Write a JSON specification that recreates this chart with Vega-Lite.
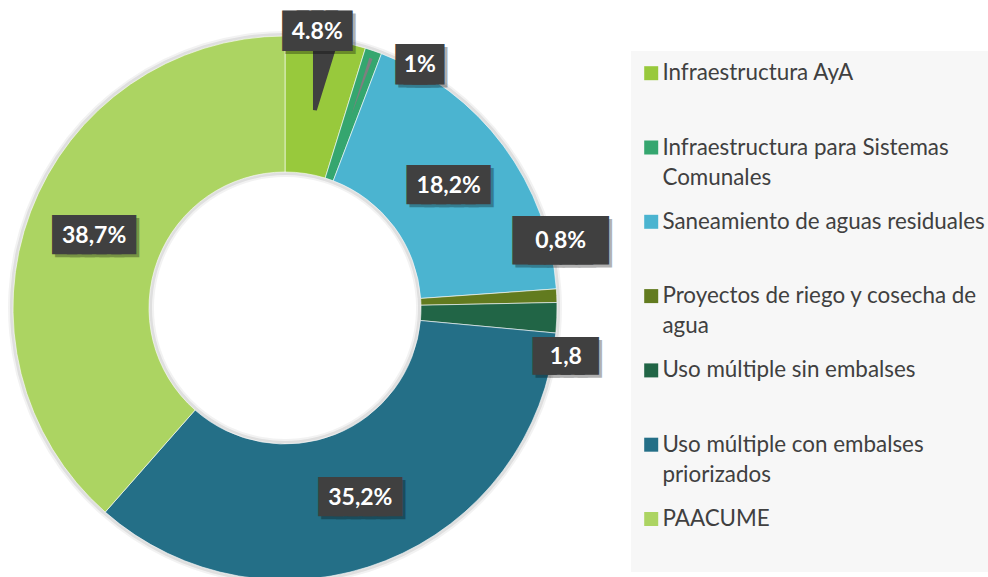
{
  "$schema": "https://vega.github.io/schema/vega-lite/v6.json",
  "width": 570,
  "height": 538,
  "autosize": {"type": "none"},
  "padding": {"left": 0, "top": 39, "right": 418, "bottom": 0},
  "background": "#ffffff",
  "config": {"view": {"stroke": null}, "style": {"guide-label": {"lineHeight": 30}}},
  "data": {
    "values": [
      {"categoria": "Infraestructura AyA", "valor": 4.8, "etiqueta": "4.8%", "orden": 1},
      {"categoria": "Infraestructura para Sistemas Comunales", "valor": 1, "etiqueta": "1%", "orden": 2},
      {"categoria": "Saneamiento de aguas residuales", "valor": 18.2, "etiqueta": "18,2%", "orden": 3},
      {"categoria": "Proyectos de riego y cosecha de agua", "valor": 0.8, "etiqueta": "0,8%", "orden": 4},
      {"categoria": "Uso múltiple sin embalses", "valor": 1.8, "etiqueta": "1,8", "orden": 5},
      {"categoria": "Uso múltiple con embalses priorizados", "valor": 35.2, "etiqueta": "35,2%", "orden": 6},
      {"categoria": "PAACUME", "valor": 38.7, "etiqueta": "38,7%", "orden": 7}
    ]
  },
  "encoding": {
    "theta": {"field": "valor", "type": "quantitative", "stack": true},
    "order": {"field": "orden", "type": "quantitative"},
    "detail": {"field": "categoria", "type": "nominal"}
  },
  "layer": [
    {"mark": {"type": "arc", "outerRadius": 277, "innerRadius": 131, "color": "#000000", "opacity": 0.05}},
    {"mark": {"type": "arc", "outerRadius": 275, "innerRadius": 133, "color": "#000000", "opacity": 0.08}},
    {
      "mark": {"type": "arc", "outerRadius": 272, "innerRadius": 136, "stroke": "#ffffff", "strokeWidth": 0.6},
      "encoding": {
        "color": {
          "field": "categoria",
          "type": "nominal",
          "scale": {
            "domain": ["Infraestructura AyA", "Infraestructura para Sistemas Comunales", "Saneamiento de aguas residuales", "Proyectos de riego y cosecha de agua", "Uso múltiple sin embalses", "Uso múltiple con embalses priorizados", "PAACUME"],
            "range": ["#98c93c", "#35a66f", "#4bb4d0", "#627b1f", "#216546", "#246f87", "#acd462"]
          },
          "legend": {
            "orient": "none",
            "legendX": 631,
            "legendY": 12,
            "direction": "vertical",
            "title": null,
            "fillColor": "#f7f7f7",
            "padding": 11,
            "symbolOffset": -2,
            "symbolType": "square",
            "symbolSize": 196,
            "symbolStrokeWidth": 0,
            "labelFont": "Lato",
            "labelFontSize": 22.4,
            "labelColor": "#404040",
            "labelOffset": 0,
            "labelLimit": 500,
            "labelBaseline": "middle",
            "rowPadding": 21.3,
            "labelExpr": "datum.label == 'Infraestructura para Sistemas Comunales' ? ['Infraestructura para Sistemas', 'Comunales'] : datum.label == 'Proyectos de riego y cosecha de agua' ? ['Proyectos de riego y cosecha de', 'agua'] : datum.label == 'Uso múltiple con embalses priorizados' ? ['Uso múltiple con embalses', 'priorizados'] : [datum.label, '']"
          }
        }
      }
    },
    {
      "mark": {"type": "arc", "innerRadius": 200, "outerRadius": 262, "padAngle": 0.17, "color": "#404040"},
      "encoding": {"opacity": {"condition": {"test": "datum.orden == 1", "value": 1}, "value": 0}}
    },
    {
      "mark": {"type": "arc", "innerRadius": 204, "outerRadius": 264, "padAngle": 0.0392, "color": "#7f7f7f"},
      "encoding": {"opacity": {"condition": {"test": "datum.orden == 2", "value": 1}, "value": 0}}
    },
    {
      "mark": {"type": "text", "radius": 204, "dx": 3, "dy": 3, "font": "DejaVu Sans Mono", "fontSize": 24.5, "color": "#000000", "opacity": 0.3, "stroke": "#000000", "strokeWidth": 10, "strokeJoin": "miter"},
      "encoding": {"text": {"condition": {"test": "datum.valor > 10", "value": "█████"}, "value": ""}}
    },
    {
      "mark": {"type": "text", "radius": 204, "font": "DejaVu Sans Mono", "fontSize": 24.5, "color": "#404040", "stroke": "#404040", "strokeWidth": 10, "strokeJoin": "miter"},
      "encoding": {"text": {"condition": {"test": "datum.valor > 10", "value": "█████"}, "value": ""}}
    },
    {
      "mark": {"type": "text", "radius": 204, "font": "Lato", "fontSize": 23, "fontWeight": "bold", "color": "#ffffff"},
      "encoding": {"text": {"condition": {"test": "datum.valor > 10", "field": "etiqueta"}, "value": ""}}
    },
    {
      "mark": {"type": "text", "radius": 276, "dx": -6, "dy": 0, "font": "DejaVu Sans Mono", "fontSize": 24.1, "color": "#000000", "opacity": 0.3, "stroke": "#000000", "strokeWidth": 12, "strokeJoin": "miter"},
      "encoding": {"text": {"condition": {"test": "datum.orden == 1", "value": "████"}, "value": ""}}
    },
    {
      "mark": {"type": "text", "radius": 276, "dx": -9, "dy": -3, "font": "DejaVu Sans Mono", "fontSize": 24.1, "color": "#404040", "stroke": "#404040", "strokeWidth": 12, "strokeJoin": "miter"},
      "encoding": {"text": {"condition": {"test": "datum.orden == 1", "value": "████"}, "value": ""}}
    },
    {
      "mark": {"type": "text", "radius": 276, "dx": -9, "dy": -3, "font": "Lato", "fontSize": 23, "fontWeight": "bold", "color": "#ffffff"},
      "encoding": {"text": {"condition": {"test": "datum.orden == 1", "field": "etiqueta"}, "value": ""}}
    },
    {
      "mark": {"type": "text", "radius": 276, "dx": 48, "dy": 21, "font": "DejaVu Sans Mono", "fontSize": 14, "color": "#000000", "opacity": 0.3, "stroke": "#000000", "strokeWidth": 23.7, "strokeJoin": "miter"},
      "encoding": {"text": {"condition": {"test": "datum.orden == 2", "value": "███"}, "value": ""}}
    },
    {
      "mark": {"type": "text", "radius": 276, "dx": 45, "dy": 18, "font": "DejaVu Sans Mono", "fontSize": 14, "color": "#404040", "stroke": "#404040", "strokeWidth": 23.7, "strokeJoin": "miter"},
      "encoding": {"text": {"condition": {"test": "datum.orden == 2", "value": "███"}, "value": ""}}
    },
    {
      "mark": {"type": "text", "radius": 276, "dx": 45, "dy": 18, "font": "Lato", "fontSize": 23, "fontWeight": "bold", "color": "#ffffff"},
      "encoding": {"text": {"condition": {"test": "datum.orden == 2", "field": "etiqueta"}, "value": ""}}
    },
    {
      "mark": {"type": "text", "radius": 276, "dx": 3, "dy": -51, "font": "DejaVu Sans Mono", "fontSize": 26, "color": "#000000", "opacity": 0.3, "stroke": "#000000", "strokeWidth": 17.7, "strokeJoin": "miter"},
      "encoding": {"text": {"condition": {"test": "datum.orden == 4", "value": "█████"}, "value": ""}}
    },
    {
      "mark": {"type": "text", "radius": 276, "dx": 0, "dy": -54, "font": "DejaVu Sans Mono", "fontSize": 26, "color": "#404040", "stroke": "#404040", "strokeWidth": 17.7, "strokeJoin": "miter"},
      "encoding": {"text": {"condition": {"test": "datum.orden == 4", "value": "█████"}, "value": ""}}
    },
    {
      "mark": {"type": "text", "radius": 276, "dx": 0, "dy": -54, "font": "Lato", "fontSize": 23, "fontWeight": "bold", "color": "#ffffff"},
      "encoding": {"text": {"condition": {"test": "datum.orden == 4", "field": "etiqueta"}, "value": ""}}
    },
    {
      "mark": {"type": "text", "radius": 276, "dx": 8, "dy": 42, "font": "DejaVu Sans Mono", "fontSize": 23.3, "color": "#000000", "opacity": 0.3, "stroke": "#000000", "strokeWidth": 9.9, "strokeJoin": "miter"},
      "encoding": {"text": {"condition": {"test": "datum.orden == 5", "value": "████"}, "value": ""}}
    },
    {
      "mark": {"type": "text", "radius": 276, "dx": 5, "dy": 39, "font": "DejaVu Sans Mono", "fontSize": 23.3, "color": "#404040", "stroke": "#404040", "strokeWidth": 9.9, "strokeJoin": "miter"},
      "encoding": {"text": {"condition": {"test": "datum.orden == 5", "value": "████"}, "value": ""}}
    },
    {
      "mark": {"type": "text", "radius": 276, "dx": 5, "dy": 39, "font": "Lato", "fontSize": 23, "fontWeight": "bold", "color": "#ffffff"},
      "encoding": {"text": {"condition": {"test": "datum.orden == 5", "field": "etiqueta"}, "value": ""}}
    }
  ]
}
